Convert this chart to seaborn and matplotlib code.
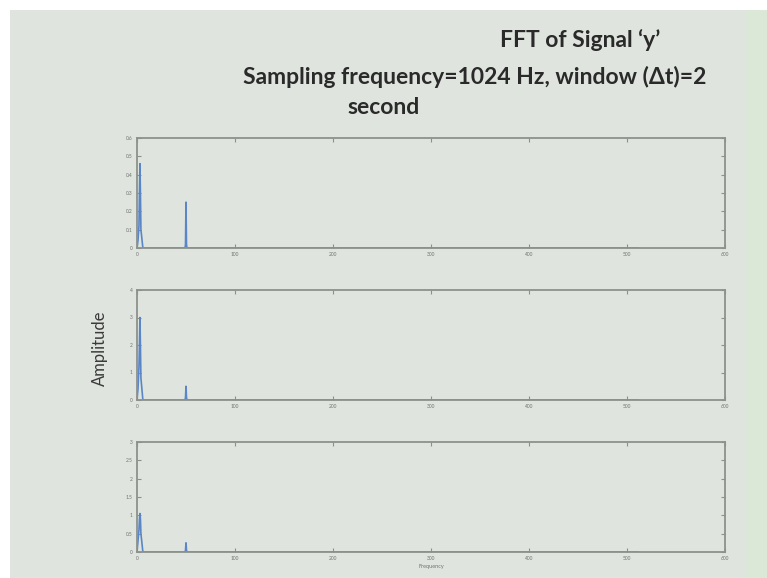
import numpy as np
import pandas as pd
import seaborn as sns
import matplotlib.pyplot as plt
from matplotlib.patches import Rectangle

# spectrum values (frequency in Hz)
freq = [0, 1, 2, 2.5, 3, 3.5, 4, 6, 49, 49.5, 50, 50.5, 51, 512]
amp_top = [0, 0.04, 0.12, 0.3, 0.46, 0.3, 0.1, 0, 0, 0.02, 0.25, 0.02, 0, 0]
amp_mid = [0, 0.4, 1.2, 2.0, 3.0, 2.0, 0.8, 0, 0, 0.1, 0.5, 0.1, 0, 0]
amp_bot = [0, 0.3, 0.6, 0.9, 1.05, 0.9, 0.5, 0, 0, 0.05, 0.25, 0.05, 0, 0]

x_ticks = [0, 100, 200, 300, 400, 500, 600]
y_ticks_top = [0, 0.1, 0.2, 0.3, 0.4, 0.5, 0.6]
y_ticks_mid = [0, 1, 2, 3, 4]
y_ticks_bot = [0, 0.5, 1, 1.5, 2, 2.5, 3]

bg = "#dfe5de"
spine_col = "#8c918c"
line_col = "#5a86c8"

sns.set_theme(style="ticks")
plt.rcParams['font.family'] = ['Lato', 'DejaVu Sans']

fig = plt.figure(figsize=(7.67, 5.78), dpi=100)
fig.patch.set_facecolor("white")
fig.patches.append(Rectangle((10 / 767, 0), 1, 1 - 10 / 578, transform=fig.transFigure,
                             facecolor=bg, edgecolor="none", zorder=-10))
fig.patches.append(Rectangle((746 / 767, 0), 1, 1 - 10 / 578, transform=fig.transFigure,
                             facecolor="#dbe8d8", edgecolor="none", zorder=-9))

left = 137 / 767
width = (725 - 137) / 767
height = 110 / 578
panels = [
    (1 - 248 / 578, amp_top, y_ticks_top),
    (1 - 400 / 578, amp_mid, y_ticks_mid),
    (1 - 552 / 578, amp_bot, y_ticks_bot),
]

axes = []
for bottom, amp, yt in panels:
    ax = fig.add_axes([left, bottom, width, height])
    ax.set_facecolor(bg)
    df = pd.DataFrame({"f": freq, "a": amp})
    sns.lineplot(data=df, x="f", y="a", ax=ax, color=line_col, linewidth=1.2)
    ax.set_xlim(x_ticks[0], x_ticks[-1])
    ax.set_ylim(yt[0], yt[-1])
    ax.set_xticks(x_ticks)
    ax.set_yticks(yt)
    ax.set_xticklabels([str(t) for t in x_ticks])
    ax.set_yticklabels([f"{t:g}" for t in yt])
    ax.tick_params(direction="in", length=3, width=0.8, colors=spine_col,
                   labelsize=3.5, labelcolor="#6e736e", top=True, right=True, pad=3)
    for s in ax.spines.values():
        s.set_visible(True)
        s.set_color(spine_col)
        s.set_linewidth(1.3)
        s.set_zorder(3)
    ax.set_xlabel("")
    ax.set_ylabel("")
    axes.append(ax)

axes[-1].set_xlabel("Frequency", fontsize=4, color="#6e736e", labelpad=2)

title_kw = dict(ha="center", va="center", fontsize=16.5, fontweight="bold", color="#2a2a2a")
fig.text(580 / 767, 1 - 40 / 578, "FFT of Signal \u2018y\u2019", **title_kw)
fig.text(475 / 767, 1 - 77 / 578, "Sampling frequency=1024 Hz, window (\u0394t)=2", **title_kw)
fig.text(384 / 767, 1 - 107 / 578, "second", **title_kw)
fig.text(100 / 767, 1 - 348 / 578, "Amplitude", ha="center", va="center", rotation=90,
         fontsize=12, color="#3a3a3a")

fig.savefig("out.png", dpi=100, facecolor=fig.get_facecolor())
